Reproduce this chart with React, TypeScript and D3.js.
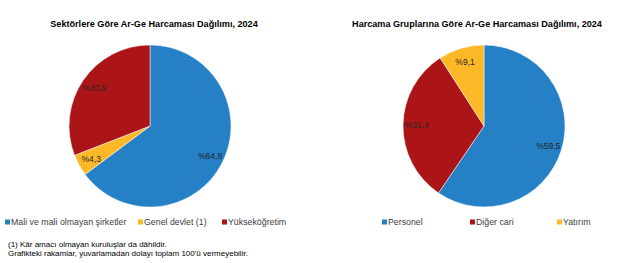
import React from "react";
import * as d3 from "d3";

const sectorLabels = ["Mali ve mali olmayan şirketler", "Genel devlet (1)", "Yükseköğretim"];
const sectorValues = [64.8, 4.3, 30.9];
const sectorColors = ["#2580C5", "#FDB827", "#AC1518"];

const groupLabels = ["Personel", "Diğer cari", "Yatırım"];
const groupValues = [59.5, 31.4, 9.1];
const groupColors = ["#2580C5", "#AC1518", "#FDB827"];

const groupLegendOrder = [0, 1, 2];

const font = "'Liberation Sans', Arial, sans-serif";

const fmt = (v: number) => "%" + v.toFixed(1).replace(".", ",");

function Pie({ cx, cy, r, values, colors }: { cx: number; cy: number; r: number; values: number[]; colors: string[] }) {
  const pie = d3.pie<number>().sort(null).value((d) => d);
  const arcs = pie(values);
  const arc = d3.arc<d3.PieArcDatum<number>>().innerRadius(0).outerRadius(r);
  const labelArc = d3.arc<d3.PieArcDatum<number>>().innerRadius(r * 0.83).outerRadius(r * 0.83);
  return (
    <g transform={`translate(${cx},${cy})`}>
      {arcs.map((a, i) => (
        <path key={i} d={arc(a) || ""} fill={colors[i]} stroke="#fff" strokeWidth={0.5} />
      ))}
      {arcs.map((a, i) => {
        const [x, y] = labelArc.centroid(a);
        return (
          <text key={"t" + i} x={x} y={y} textAnchor="middle" dominantBaseline="central" fontSize={8.5} fill="#262626" fontFamily={font}>
            {fmt(values[i])}
          </text>
        );
      })}
    </g>
  );
}

export default function App() {
  return (
    <svg width={623} height={263} style={{ position: "absolute", left: 0, top: 0, background: "#fff" }} fontFamily={font}>
      <rect width={623} height={263} fill="#fff" />
      <text x={154} y={24} textAnchor="middle" dominantBaseline="central" fontSize={9.1} fontWeight="bold" fill="#000">
        Sektörlere Göre Ar-Ge Harcaması Dağılımı, 2024
      </text>
      <text x={477} y={24} textAnchor="middle" dominantBaseline="central" fontSize={9.1} fontWeight="bold" fill="#000">
        Harcama Gruplarına Göre Ar-Ge Harcaması Dağılımı, 2024
      </text>
      <Pie cx={150} cy={126} r={81} values={sectorValues} colors={sectorColors} />
      <Pie cx={484} cy={126} r={81} values={groupValues} colors={groupColors} />

      {[5, 138, 222].map((x, i) => (
        <g key={"l" + i}>
          <rect x={x} y={219.5} width={5} height={5} fill={sectorColors[i]} />
          <text x={x + 6} y={222} dominantBaseline="central" fontSize={8.8} fill="#404040">
            {sectorLabels[i]}
          </text>
        </g>
      ))}
      {[382, 470, 557].map((x, j) => {
        const i = groupLegendOrder[j];
        return (
          <g key={"g" + j}>
            <rect x={x} y={219.5} width={5} height={5} fill={groupColors[i]} />
            <text x={x + 6} y={222} dominantBaseline="central" fontSize={8.8} fill="#404040">
              {groupLabels[i]}
            </text>
          </g>
        );
      })}

      <text x={8} y={244} dominantBaseline="central" fontSize={8} fill="#000">
        (1)  Kâr amacı olmayan kuruluşlar da dâhildir.
      </text>
      <text x={8} y={253} dominantBaseline="central" fontSize={8} fill="#000">
        Grafikteki rakamlar, yuvarlamadan dolayı toplam 100'ü vermeyebilir.
      </text>
    </svg>
  );
}
